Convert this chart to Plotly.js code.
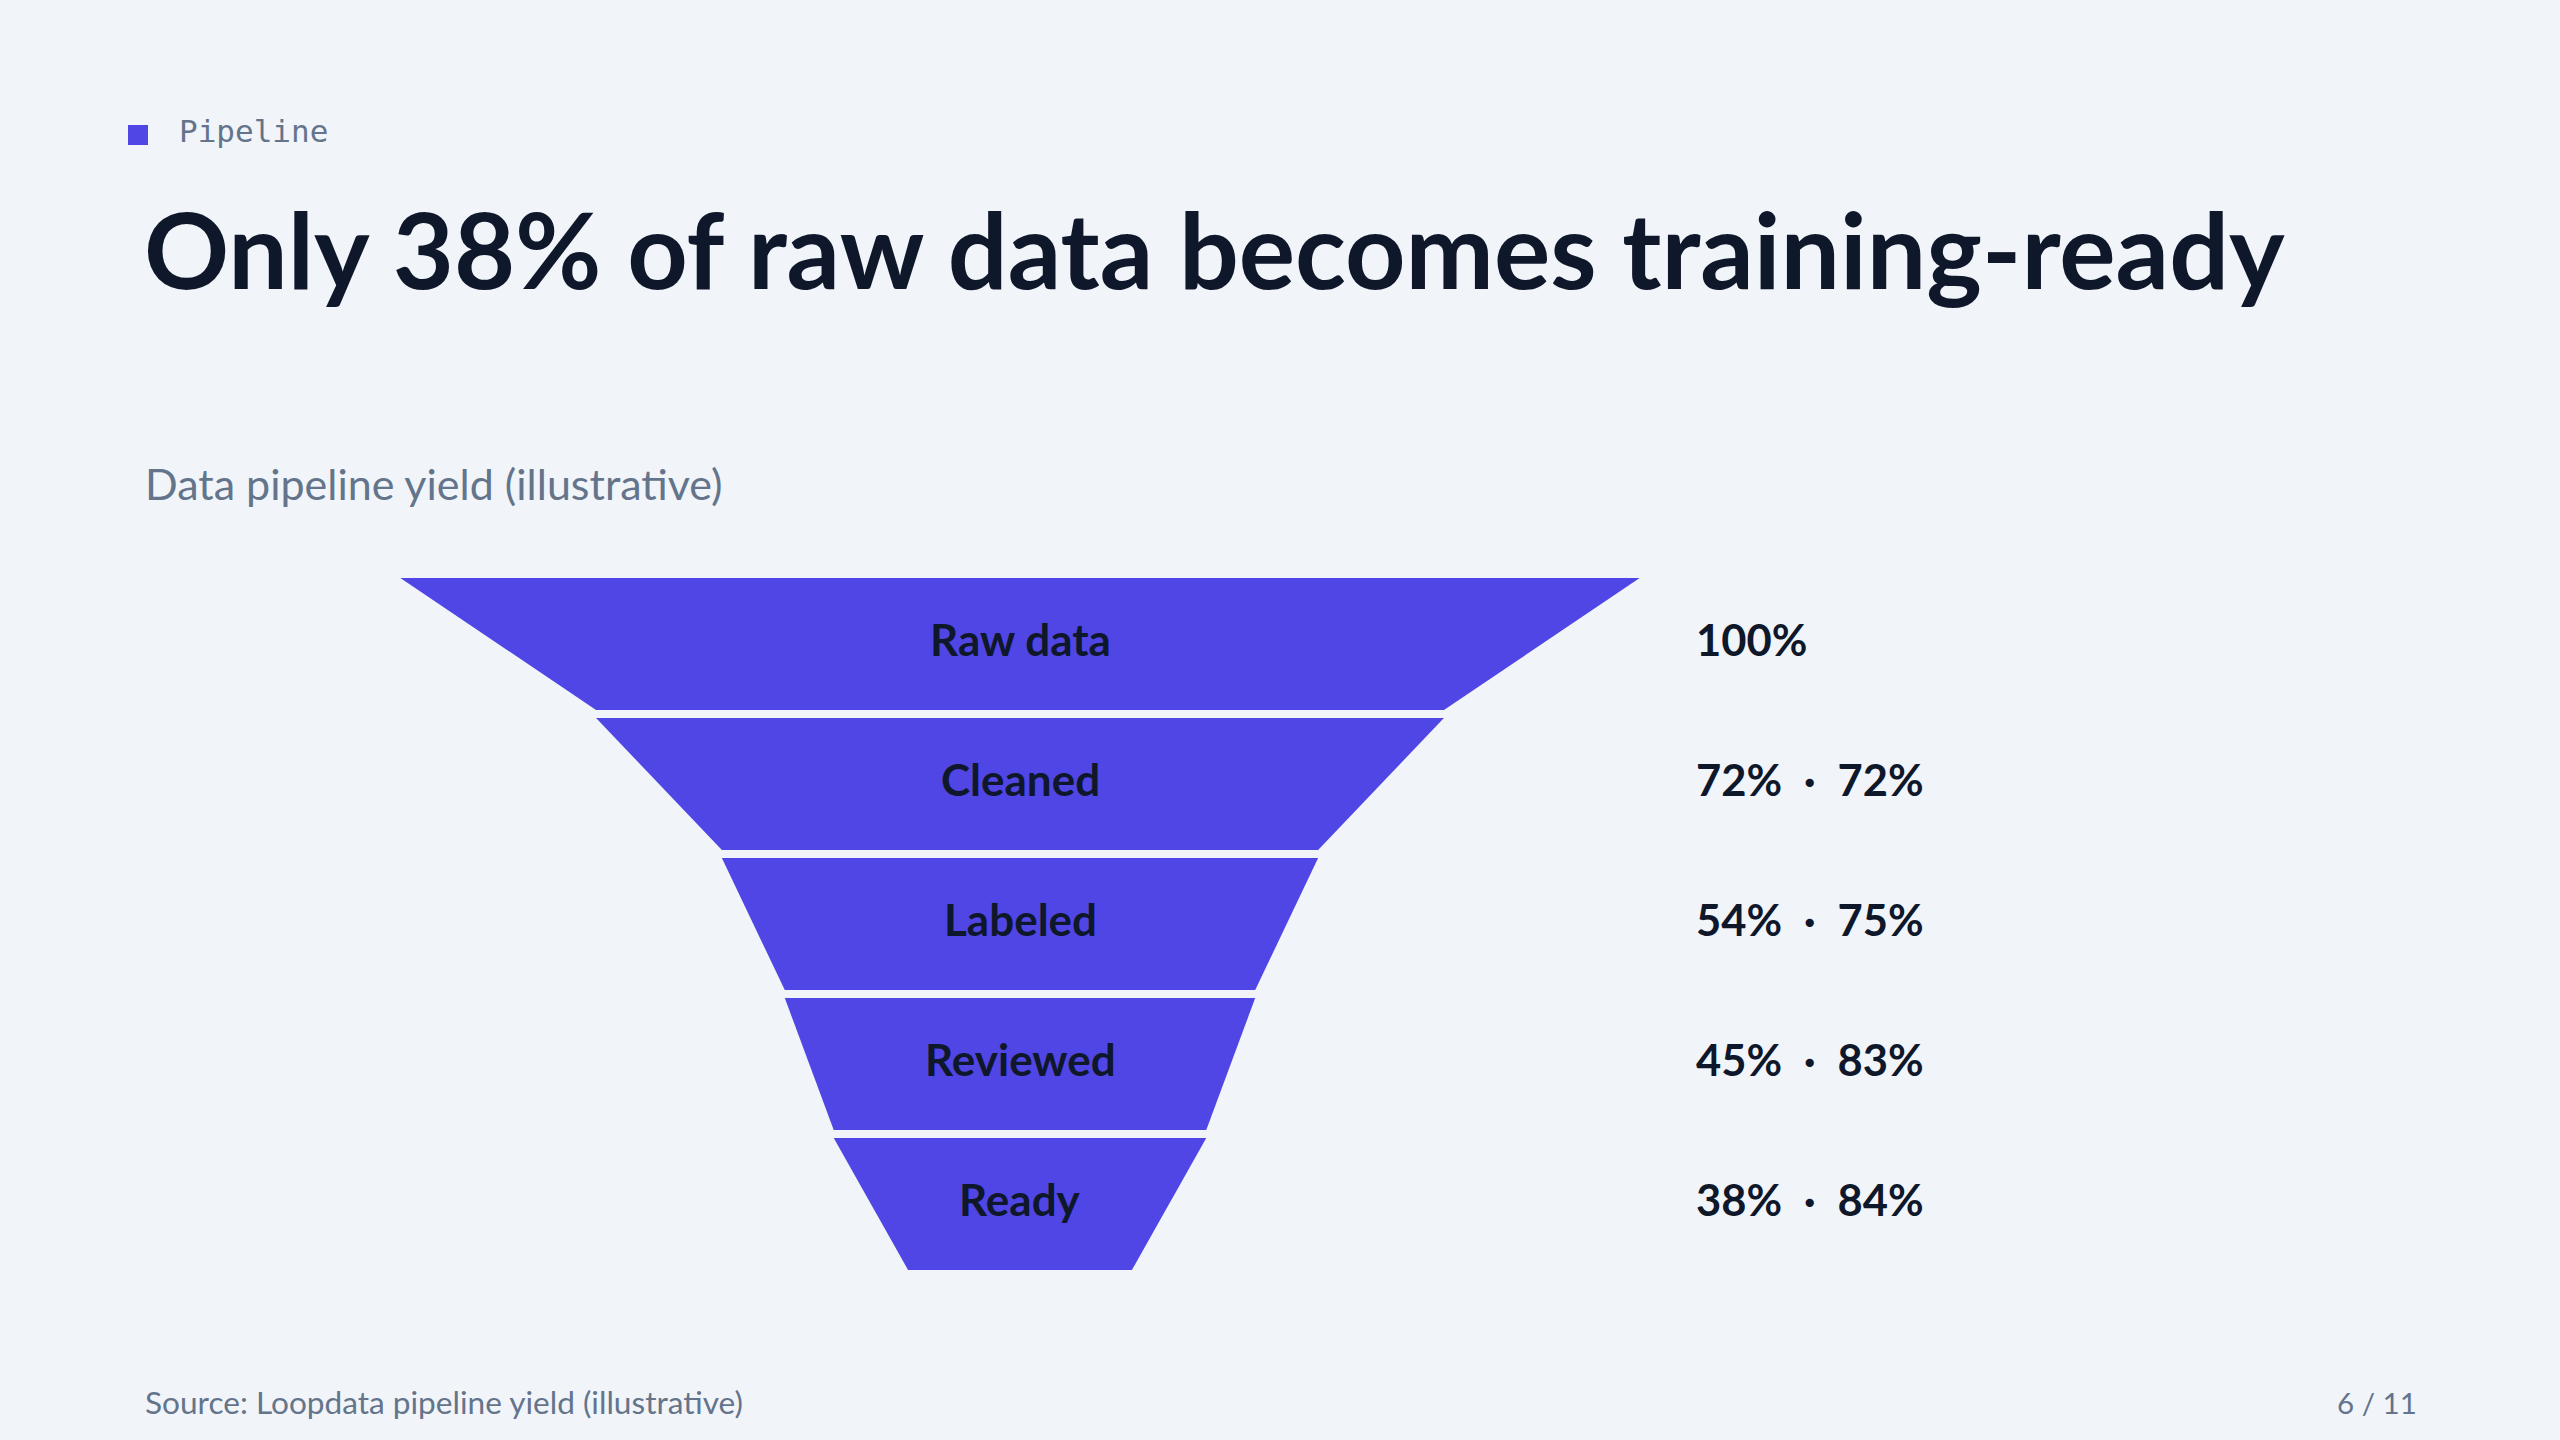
<!DOCTYPE html>
<html>
<head>
<meta charset="utf-8">
<script src="https://cdn.plot.ly/plotly-3.0.1.min.js"></script>
<style>
  html, body { margin: 0; padding: 0; background: #f1f4f9; }
  #chart { width: 2560px; height: 1440px; }
</style>
</head>
<body>
<div id="chart"></div>
<script>
// Pipeline stages and how much of the raw data survives each one
const stages = ['Raw data', 'Cleaned', 'Labeled', 'Reviewed', 'Ready'];
const shareOfRaw = [100, 72, 54, 45, 38];        // % of raw data remaining
const stepConversion = [null, 72, 75, 83, 84];   // % kept from the previous stage

const W = 2560, H = 1440;
const INDIGO = '#4f46e5';
const INK = '#0f172a';
const MUTED = '#64748b';
const SANS = 'Lato, "Noto Sans", sans-serif';
const MONO = '"DejaVu Sans Mono", "Liberation Mono", monospace';

// Funnel geometry: width shrinks linearly with the share, pinched by a neck offset;
// the tip narrows by the first step's rate below the last stage.
const NECK = 11.35;
const GAP = 8 / 140;                      // gap between slices, in category units
const tipShare = shareOfRaw[shareOfRaw.length - 1] * stepConversion[1] / 100;
const halfWidth = v => (v - NECK) / 2;

const traces = stages.map((name, i) => {
  const top = halfWidth(shareOfRaw[i]);
  const next = i + 1 < shareOfRaw.length ? shareOfRaw[i + 1] : tipShare;
  const bot = halfWidth(next);
  const y0 = i - 0.5 + GAP / 2, y1 = i + 0.5 - GAP / 2;
  return {
    type: 'scatter', mode: 'lines', name,
    x: [-top, top, bot, -bot, -top],
    y: [y0, y0, y1, y1, y0],
    fill: 'toself', fillcolor: INDIGO,
    line: { width: 0, color: INDIGO },
    hoverinfo: 'skip', showlegend: false
  };
});

const px = x => x / W;
const py = y => 1 - y / H;

const annotations = [];

// Stage names inside the slices
stages.forEach((name, i) => {
  annotations.push({
    xref: 'x', yref: 'y', x: 0, y: i, yshift: 5,
    text: name, showarrow: false,
    font: { family: SANS, size: 44, color: INK, weight: 700 }
  });
});

// Share of raw · step conversion, to the right of the funnel
stages.forEach((name, i) => {
  const txt = stepConversion[i] == null
    ? shareOfRaw[i] + '%'
    : shareOfRaw[i] + '%\u2002·\u2002' + stepConversion[i] + '%';
  annotations.push({
    xref: 'paper', yref: 'y', x: px(1694), y: i, yshift: 5,
    xanchor: 'left', text: txt, showarrow: false,
    font: { family: SANS, size: 43.5, color: INK, weight: 700 }
  });
});

// Header and footer text
annotations.push(
  { xref: 'paper', yref: 'paper', x: px(177), y: py(131), xanchor: 'left', yanchor: 'middle',
    text: 'Pipeline', showarrow: false,
    font: { family: MONO, size: 31, color: MUTED } },
  { xref: 'paper', yref: 'paper', x: px(142), y: py(248), xanchor: 'left', yanchor: 'middle',
    text: 'Only 38% of raw data becomes training-ready', showarrow: false,
    font: { family: SANS, size: 105.5, color: INK, weight: 700 } },
  { xref: 'paper', yref: 'paper', x: px(143), y: py(483), xanchor: 'left', yanchor: 'middle',
    text: 'Data pipeline yield (illustrative)', showarrow: false,
    font: { family: SANS, size: 43, color: MUTED } },
  { xref: 'paper', yref: 'paper', x: px(143), y: py(1402), xanchor: 'left', yanchor: 'middle',
    text: 'Source: Loopdata pipeline yield (illustrative)', showarrow: false,
    font: { family: SANS, size: 31.6, color: MUTED } },
  { xref: 'paper', yref: 'paper', x: px(2419), y: py(1402), xanchor: 'right', yanchor: 'middle',
    text: '6 / 11', showarrow: false,
    font: { family: SANS, size: 29.5, color: MUTED } }
);

const CENTER = 1020, PX_PER_UNIT = 13.98;

const layout = {
  width: W, height: H,
  margin: { l: 0, r: 0, t: 0, b: 0, pad: 0 },
  paper_bgcolor: '#f1f4f9', plot_bgcolor: 'rgba(0,0,0,0)',
  showlegend: false, hovermode: false,
  xaxis: {
    domain: [0, 1],
    range: [-CENTER / PX_PER_UNIT, (W - CENTER) / PX_PER_UNIT],
    visible: false, fixedrange: true
  },
  yaxis: {
    domain: [py(1274), py(574)],
    range: [stages.length - 0.5, -0.5],
    visible: false, fixedrange: true
  },
  shapes: [{
    type: 'rect', xref: 'paper', yref: 'paper',
    x0: px(128), x1: px(148), y0: py(145), y1: py(125),
    fillcolor: INDIGO, line: { width: 0 }
  }],
  annotations
};

Plotly.newPlot('chart', traces, layout, { displayModeBar: false, staticPlot: true });
</script>
</body>
</html>
